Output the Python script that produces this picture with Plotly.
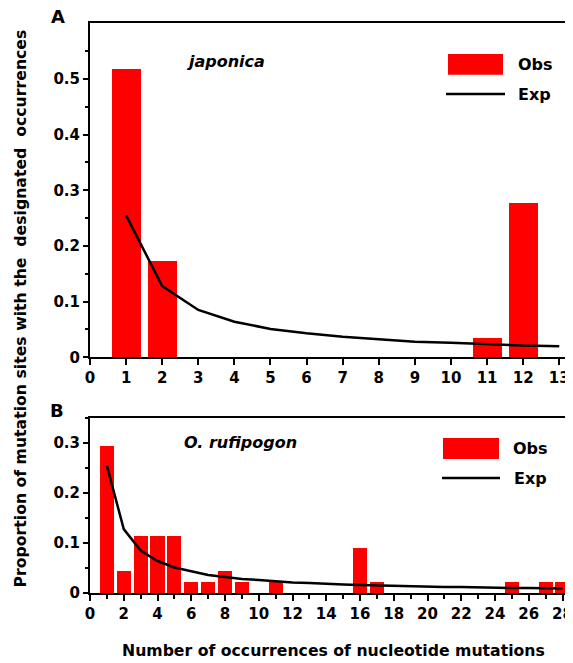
import plotly.graph_objects as go

# ---- data ----
a_x = [1, 2, 11, 12]
a_obs = [0.517, 0.172, 0.034, 0.276]
a_exp_x = [1, 2, 3, 4, 5, 6, 7, 8, 9, 10, 11, 12, 13]
a_exp = [0.255, 0.128, 0.085, 0.064, 0.051, 0.043, 0.037, 0.032, 0.028, 0.026, 0.023, 0.021, 0.020]

b_x = [1, 2, 3, 4, 5, 6, 7, 8, 9, 11, 16, 17, 25, 27, 28]
b_obs = [0.295, 0.045, 0.114, 0.114, 0.114, 0.023, 0.023, 0.045, 0.023, 0.023, 0.091, 0.023, 0.023, 0.023, 0.023]
b_exp_x = list(range(1, 29))
b_exp = [0.255, 0.128, 0.085, 0.064, 0.051, 0.043, 0.036, 0.032, 0.028, 0.026,
         0.023, 0.021, 0.020, 0.018, 0.017, 0.016, 0.015, 0.014, 0.013, 0.013,
         0.012, 0.012, 0.011, 0.011, 0.010, 0.010, 0.009, 0.009]

# page is 573x663; the html body has an 8px margin
OFF = 8
PAGE_W, PAGE_H = 573, 663
W, H = PAGE_W - OFF, PAGE_H - OFF
PL, PR, PT, PB = 90, 573, 23, 593          # plot area in page pixels
ML, MR, MT, MB = PL - OFF, PAGE_W - PR, PT - OFF, PAGE_H - PB
PW, PH = PR - PL, PB - PT

def px(x):
    return (x - PL) / PW

def py(y):
    return (PB - y) / PH

FONT = "DejaVu Sans, Verdana, sans-serif"
RED = "#ff0000"

fig = go.Figure()
fig.add_trace(go.Bar(x=a_x, y=a_obs, width=0.8, marker=dict(color=RED, line=dict(width=0)),
                     xaxis="x", yaxis="y", showlegend=False))
fig.add_trace(go.Scatter(x=a_exp_x, y=a_exp, mode="lines", line=dict(color="black", width=2.5),
                         xaxis="x", yaxis="y", showlegend=False))
fig.add_trace(go.Bar(x=b_x, y=b_obs, width=0.84, marker=dict(color=RED, line=dict(width=0)),
                     xaxis="x2", yaxis="y2", showlegend=False))
fig.add_trace(go.Scatter(x=b_exp_x, y=b_exp, mode="lines", line=dict(color="black", width=2.5),
                         xaxis="x2", yaxis="y2", showlegend=False))

tickfont = dict(family=FONT, size=15, color="black", weight="bold")
axcommon = dict(showline=True, linecolor="black", linewidth=2, showgrid=False, zeroline=False,
                ticks="outside", tickcolor="black", tickwidth=2, tickfont=tickfont)
minor_y = dict(dtick=0.05, tick0=0, ticklen=3, tickwidth=2, tickcolor="black", ticks="outside")

yA_top = py(23.3)
yA_bot = py(357.3)
yB_top = py(417.7)

fig.update_layout(
    width=W, height=H,
    margin=dict(l=ML, r=MR, t=MT, b=MB, autoexpand=False),
    plot_bgcolor="white", paper_bgcolor="white",
    bargap=0,
    xaxis=dict(domain=[0, 1], anchor="y", range=[0, 13.38], dtick=1, tick0=0, ticklen=6,
               mirror=True, **axcommon),
    yaxis=dict(domain=[yA_bot, yA_top], anchor="x", range=[0, 0.5999], dtick=0.1, tick0=0, ticklen=5,
               minor=minor_y, **axcommon),
    xaxis2=dict(domain=[0, 1], anchor="y2", range=[0, 28.62], dtick=2, tick0=0, ticklen=6,
                minor=dict(dtick=1, tick0=0, ticklen=4, tickwidth=2, tickcolor="black", ticks="outside"),
                mirror=True, **axcommon),
    yaxis2=dict(domain=[0, yB_top], anchor="x2", range=[0, 0.351], dtick=0.1, tick0=0, ticklen=5,
                minor=minor_y, **axcommon),
)

bold = dict(family=FONT, color="black", weight="bold")
ann = []
ann.append(dict(text="Proportion of mutation sites with the&nbsp; designated&nbsp; occurrences",
                x=px(20), y=py(308.5), xref="paper", yref="paper", textangle=-90, showarrow=False,
                font=dict(size=15.7, **bold), xanchor="center", yanchor="middle"))
ann.append(dict(text="Number of occurrences of nucleotide mutations",
                x=px(333), y=py(650), xref="paper", yref="paper", showarrow=False,
                font=dict(size=15.7, **bold), xanchor="center", yanchor="middle"))
ann.append(dict(text="A", x=px(58), y=py(16.5), xref="paper", yref="paper", showarrow=False,
                font=dict(size=18, **bold), xanchor="center", yanchor="middle"))
ann.append(dict(text="B", x=px(57), y=py(410), xref="paper", yref="paper", showarrow=False,
                font=dict(size=18, **bold), xanchor="center", yanchor="middle"))
ann.append(dict(text="japonica", x=px(225), y=py(62), xref="paper", yref="paper", showarrow=False,
                font=dict(size=16, style="italic", **bold), xanchor="center", yanchor="middle"))
ann.append(dict(text="O. rufipogon", x=px(240), y=py(442), xref="paper", yref="paper", showarrow=False,
                font=dict(size=16, style="italic", **bold), xanchor="center", yanchor="middle"))
# legend texts
for (tx, ty, t) in [(516, 64, "Obs"), (516, 94, "Exp"), (511, 448, "Obs"), (512, 478, "Exp")]:
    ann.append(dict(text=t, x=px(tx), y=py(ty), xref="paper", yref="paper", showarrow=False,
                    font=dict(size=16, **bold), xanchor="left", yanchor="middle"))

shapes = []
shapes.append(dict(type="rect", xref="paper", yref="paper", x0=px(448), x1=px(503), y0=py(54), y1=py(74.7),
                   fillcolor=RED, line=dict(width=0)))
shapes.append(dict(type="line", xref="paper", yref="paper", x0=px(446), x1=px(505), y0=py(94), y1=py(94),
                   line=dict(color="black", width=2.5)))
shapes.append(dict(type="rect", xref="paper", yref="paper", x0=px(443), x1=px(499), y0=py(438), y1=py(459),
                   fillcolor=RED, line=dict(width=0)))
shapes.append(dict(type="line", xref="paper", yref="paper", x0=px(442), x1=px(500), y0=py(478), y1=py(478),
                   line=dict(color="black", width=2.5)))

fig.update_layout(annotations=ann, shapes=shapes)
fig.write_html("out.html")
